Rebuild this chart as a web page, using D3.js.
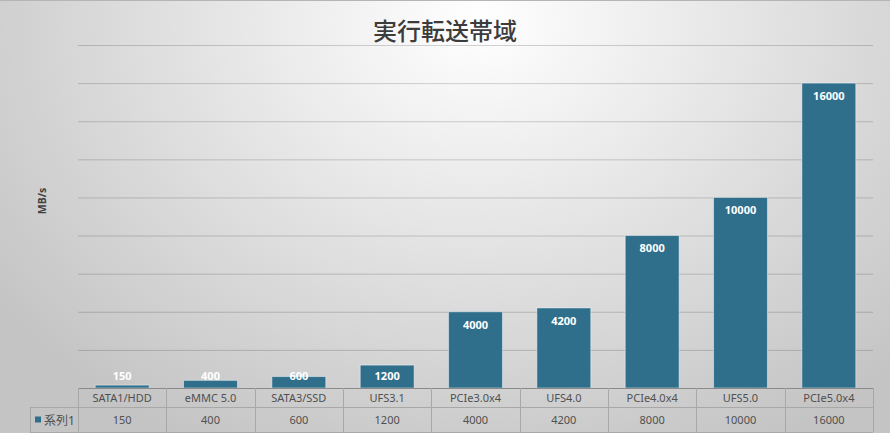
<!DOCTYPE html>
<html>
<head>
<meta charset="utf-8">
<script src="https://cdn.jsdelivr.net/npm/d3@7"></script>
<style>
  html, body { margin: 0; padding: 0; background: #fff; }
  svg { display: block; }
</style>
</head>
<body>
<svg id="chart" width="890" height="433"></svg>
<script>
// Data
const categories = ['SATA1/HDD', 'eMMC 5.0', 'SATA3/SSD', 'UFS3.1', 'PCIe3.0x4', 'UFS4.0', 'PCIe4.0x4', 'UFS5.0', 'PCIe5.0x4'];
const values = [150, 400, 600, 1200, 4000, 4200, 8000, 10000, 16000];
const seriesName = '系列1';
const gridTicks = [0, 2000, 4000, 6000, 8000, 10000, 12000, 14000, 16000, 18000];
const chartTitle = '実行転送帯域';
const yTitle = 'MB/s';

// Layout
const W = 890, H = 433;
const plot = { left: 78, right: 873, top: 45, bottom: 388 };
const table = { rowH: 19, legendLeft: 30, bottom: 432 };
const barColor = '#2f6f8c';
const gridColor = 'rgba(0,0,0,0.17)';
const tableLine = '#a8a8a8';
const textColor = '#505050';
const font = '"Noto Sans", "Noto Sans CJK JP", sans-serif';

const svg = d3.select('#chart');
const defs = svg.append('defs');

// background: light centre at top, grey towards the edges
const bg = defs.append('radialGradient')
    .attr('id', 'bg')
    .attr('gradientUnits', 'userSpaceOnUse')
    .attr('cx', 480).attr('cy', 20).attr('r', 600)
    .attr('gradientTransform', 'translate(480,20) scale(1,0.8) translate(-480,-20)');
bg.append('stop').attr('offset', '0%').attr('stop-color', '#ffffff');
bg.append('stop').attr('offset', '100%').attr('stop-color', '#c4c4c4');

svg.append('rect')
    .attr('width', W).attr('height', H)
    .attr('fill', 'url(#bg)');
svg.append('line')
    .attr('x1', 0).attr('x2', W).attr('y1', 0.5).attr('y2', 0.5)
    .attr('stroke', '#b5b5b5');

// Scales
const x = d3.scaleBand()
    .domain(categories)
    .range([plot.left, plot.right])
    .paddingInner(0.39)
    .paddingOuter(0.195);

const y = d3.scaleLinear()
    .domain([0, 18000])
    .range([plot.bottom, plot.top]);

// Gridlines
const grid = svg.append('g')
    .attr('transform', `translate(${plot.left},0)`)
    .call(d3.axisLeft(y).tickValues(gridTicks.slice(1)).tickSize(-(plot.right - plot.left)).tickFormat(''));
grid.select('.domain').remove();
grid.selectAll('.tick line').attr('stroke', gridColor).attr('stroke-width', 1);

// Bars
svg.append('g')
    .selectAll('rect')
    .data(values)
    .join('rect')
    .attr('x', (d, i) => x(categories[i]))
    .attr('y', d => y(d))
    .attr('width', x.bandwidth())
    .attr('height', d => y(0) - y(d))
    .attr('fill', barColor)
    .attr('stroke', 'rgba(255,255,255,0.45)')
    .attr('stroke-width', 1);

// Value labels, inside end (clamped above the axis for short bars)
svg.append('g')
    .selectAll('text')
    .data(values)
    .join('text')
    .attr('x', (d, i) => x(categories[i]) + x.bandwidth() / 2)
    .attr('y', d => Math.min(y(d) + 13, plot.bottom - 12))
    .attr('dy', '0.35em')
    .attr('text-anchor', 'middle')
    .attr('font-family', font)
    .attr('font-weight', 'bold')
    .attr('font-size', 11)
    .attr('fill', '#ffffff')
    .text(d => d);

// Title
svg.append('text')
    .attr('x', 445).attr('y', 40)
    .attr('text-anchor', 'middle')
    .attr('font-family', '"Noto Sans CJK JP", sans-serif')
    .attr('font-size', 24)
    .attr('font-weight', 500)
    .attr('fill', '#3c3c3c')
    .text(chartTitle);

// Y axis title
svg.append('text')
    .attr('transform', 'translate(42,201) rotate(-90)')
    .attr('dy', '0.35em')
    .attr('text-anchor', 'middle')
    .attr('font-family', font)
    .attr('font-weight', 'bold')
    .attr('font-size', 10.5)
    .attr('fill', '#404040')
    .text(yTitle);

// Data table
const t = svg.append('g');
const row1 = plot.bottom, row2 = plot.bottom + table.rowH, rowEnd = table.bottom;
const step = x.step();
const colEdges = categories.map((c, i) => plot.left + i * step).concat([plot.right]);

t.append('line')
    .attr('x1', plot.left).attr('x2', plot.right)
    .attr('y1', row1 + 0.5).attr('y2', row1 + 0.5)
    .attr('stroke', '#8a8a8a');
t.append('line')
    .attr('x1', table.legendLeft).attr('x2', plot.right)
    .attr('y1', row2 + 0.5).attr('y2', row2 + 0.5)
    .attr('stroke', tableLine);
t.append('line')
    .attr('x1', table.legendLeft).attr('x2', plot.right)
    .attr('y1', rowEnd + 0.5).attr('y2', rowEnd + 0.5)
    .attr('stroke', tableLine);
t.selectAll('line.col')
    .data(colEdges)
    .join('line')
    .attr('class', 'col')
    .attr('x1', d => Math.round(d) + 0.5).attr('x2', d => Math.round(d) + 0.5)
    .attr('y1', row1).attr('y2', rowEnd)
    .attr('stroke', tableLine);
t.append('line')
    .attr('x1', table.legendLeft + 0.5).attr('x2', table.legendLeft + 0.5)
    .attr('y1', row2).attr('y2', rowEnd)
    .attr('stroke', tableLine);

// category row
t.selectAll('text.cat')
    .data(categories)
    .join('text')
    .attr('class', 'cat')
    .attr('x', d => x(d) + x.bandwidth() / 2)
    .attr('y', (row1 + row2) / 2 + 1)
    .attr('dy', '0.35em')
    .attr('text-anchor', 'middle')
    .attr('font-family', font)
    .attr('font-size', 11)
    .attr('fill', textColor)
    .text(d => d);

// value row
t.selectAll('text.val')
    .data(values)
    .join('text')
    .attr('class', 'val')
    .attr('x', (d, i) => x(categories[i]) + x.bandwidth() / 2)
    .attr('y', (row2 + rowEnd) / 2 + 1)
    .attr('dy', '0.35em')
    .attr('text-anchor', 'middle')
    .attr('font-family', font)
    .attr('font-size', 11)
    .attr('fill', textColor)
    .text(d => d);

// legend key
t.append('rect')
    .attr('x', 35).attr('y', (row2 + rowEnd) / 2 - 3)
    .attr('width', 6).attr('height', 6)
    .attr('fill', barColor);
t.append('text')
    .attr('x', 44).attr('y', (row2 + rowEnd) / 2 + 1)
    .attr('dy', '0.35em')
    .attr('font-family', font)
    .attr('font-size', 12)
    .attr('fill', textColor)
    .text(seriesName);
</script>
</body>
</html>
